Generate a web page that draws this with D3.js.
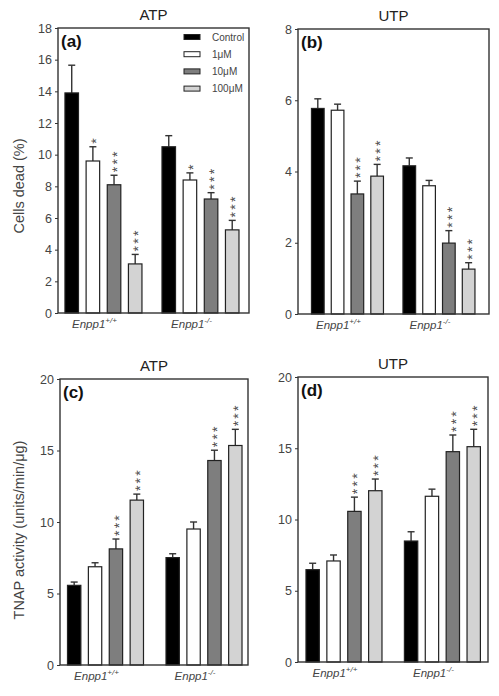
<!DOCTYPE html>
<html><head><meta charset="utf-8">
<script src="https://cdn.jsdelivr.net/npm/d3@7"></script>
<style>html,body{margin:0;padding:0;background:#fff;}svg{display:block;font-family:"Liberation Sans",Arial,sans-serif;}</style>
</head><body>
<svg id="chart" width="499" height="696"></svg>
<script>
// ---- data ----
const groups = ["+/+", "-/-"];
const series = ["Control", "1μM", "10μM", "100μM"];
const seriesColors = ["#000000", "#ffffff", "#7e7e7e", "#d3d3d3"];

const deadATP      = [[13.9, 9.6, 8.1, 3.1], [10.5, 8.4, 7.2, 5.25]];
const deadATPErr   = [[1.75, 0.9, 0.6, 0.6], [0.7, 0.45, 0.4, 0.6]];
const deadATPStars = [[0, 1, 3, 3], [0, 1, 3, 3]];

const deadUTP      = [[5.77, 5.72, 3.37, 3.87], [4.16, 3.6, 1.99, 1.26]];
const deadUTPErr   = [[0.27, 0.17, 0.36, 0.33], [0.22, 0.15, 0.35, 0.18]];
const deadUTPStars = [[0, 0, 3, 3], [0, 0, 3, 3]];

const tnapATP      = [[5.57, 6.87, 8.12, 11.53], [7.51, 9.51, 14.3, 15.35]];
const tnapATPErr   = [[0.23, 0.28, 0.69, 0.42], [0.27, 0.49, 0.72, 1.13]];
const tnapATPStars = [[0, 0, 3, 3], [0, 0, 3, 3]];

const tnapUTP      = [[6.48, 7.09, 10.57, 12.02], [8.49, 11.63, 14.76, 15.11]];
const tnapUTPErr   = [[0.45, 0.42, 1.0, 0.82], [0.65, 0.5, 1.17, 1.22]];
const tnapUTPStars = [[0, 0, 3, 3], [0, 0, 3, 3]];

const deadATPTicks = [0, 2, 4, 6, 8, 10, 12, 14, 16, 18];
const deadUTPTicks = [0, 2, 4, 6, 8];
const tnapTicks    = [0, 5, 10, 15, 20];

const titles = ["ATP", "UTP", "ATP", "UTP"];
const panelLabels = ["(a)", "(b)", "(c)", "(d)"];
const yLabels = ["Cells dead (%)", "TNAP activity (units/min/μg)"];

// ---- layout ----
const panels = [
  {vals: deadATP, errs: deadATPErr, stars: deadATPStars, ticks: deadATPTicks, x0: 58, x1: 249, y0: 28, y1: 313, g: [0.238, 0.746], gw: 77, legend: true, ylab: yLabels[0], ylabY: 186},
  {vals: deadUTP, errs: deadUTPErr, stars: deadUTPStars, ticks: deadUTPTicks, x0: 298, x1: 489, y0: 29, y1: 314, g: [0.259, 0.738], gw: 72},
  {vals: tnapATP, errs: tnapATPErr, stars: tnapATPStars, ticks: tnapTicks, x0: 60, x1: 248, y0: 379, y1: 665, g: [0.242, 0.766], gw: 76, ylab: yLabels[1], ylabY: 530},
  {vals: tnapUTP, errs: tnapUTPErr, stars: tnapUTPStars, ticks: tnapTicks, x0: 298, x1: 488, y0: 377, y1: 662, g: [0.242, 0.76], gw: 76}
];

const svg = d3.select("#chart");
const ink = "#333";
const starFs = 14;

panels.forEach((p, pi) => {
  const w = p.x1 - p.x0, h = p.y1 - p.y0;
  const g = svg.append("g").attr("transform", `translate(${p.x0},${p.y0})`);
  const y = d3.scaleLinear().domain([0, p.ticks[p.ticks.length - 1]]).range([h, 0]);
  const xg = d3.scalePoint().domain(groups).range([w * p.g[0], w * p.g[1]]);
  const xs = d3.scaleBand().domain(series).range([-p.gw / 2, p.gw / 2]).paddingInner(0.36);

  groups.forEach((grp, gi) => {
    const gg = g.append("g").attr("transform", `translate(${xg(grp)},0)`);
    series.forEach((s, si) => {
      const v = p.vals[gi][si], e = p.errs[gi][si];
      const cx = xs(s) + xs.bandwidth() / 2;
      gg.append("line").attr("x1", cx).attr("x2", cx).attr("y1", y(v)).attr("y2", y(v + e))
        .attr("stroke", ink).attr("stroke-width", 1.4);
      gg.append("line").attr("x1", cx - 3.5).attr("x2", cx + 3.5).attr("y1", y(v + e)).attr("y2", y(v + e))
        .attr("stroke", ink).attr("stroke-width", 1.4);
      gg.append("rect").attr("x", xs(s)).attr("width", xs.bandwidth())
        .attr("y", y(v)).attr("height", y(0) - y(v))
        .attr("fill", seriesColors[si]).attr("stroke", "#222").attr("stroke-width", 1.2);
      const n = p.stars[gi][si];
      if (n > 0) {
        const by = y(v + e) - 3;
        gg.append("text")
          .attr("transform", `translate(${cx + 0.57 * starFs},${by}) rotate(-90)`)
          .attr("font-size", starFs).attr("letter-spacing", 2.2).attr("fill", "#4a4a4a")
          .attr("text-rendering", "geometricPrecision")
          .text("*".repeat(n));
      }
    });
    const t = g.append("text").attr("x", xg(grp) - 9).attr("y", h + 14.5).attr("text-anchor", "middle")
      .attr("font-size", 11.5).attr("font-style", "italic").attr("fill", "#444");
    t.append("tspan").text("Enpp1");
    t.append("tspan").attr("font-size", 8).attr("dy", -5).text(grp);
  });

  const ax = g.append("g").call(d3.axisLeft(y).tickValues(p.ticks).tickSize(3).tickSizeOuter(0).tickPadding(3));
  ax.select(".domain").remove();
  ax.selectAll("line").attr("stroke", ink);
  ax.selectAll("text").attr("font-size", 12.5).attr("fill", "#444").attr("font-family", "Liberation Sans, Arial, sans-serif");

  g.append("rect").attr("x", 0).attr("y", 0).attr("width", w).attr("height", h)
    .attr("fill", "none").attr("stroke", ink).attr("stroke-width", 1.4);

  svg.append("text").attr("x", p.x0 + w / 2).attr("y", p.y0 - 8).attr("text-anchor", "middle")
    .attr("font-size", 15).attr("fill", "#222").text(titles[pi]);
  g.append("text").attr("x", 3).attr("y", 19).attr("font-size", 17).attr("font-weight", "bold")
    .attr("fill", "#111").text(panelLabels[pi]);

  if (p.ylab) {
    svg.append("text").attr("transform", `translate(24,${p.ylabY}) rotate(-90)`).attr("text-anchor", "middle")
      .attr("font-size", 14.5).attr("fill", "#444").text(p.ylab);
  }

  if (p.legend) {
    series.forEach((s, si) => {
      const ly = 9 + si * 17.2;
      g.append("rect").attr("x", 126).attr("y", ly - 2.5).attr("width", 16).attr("height", 5)
        .attr("fill", seriesColors[si]).attr("stroke", "#222").attr("stroke-width", 1);
      g.append("text").attr("x", 154).attr("y", ly + 3.7).attr("font-size", 10).attr("fill", "#444").text(s);
    });
  }
});
</script>
</body></html>
